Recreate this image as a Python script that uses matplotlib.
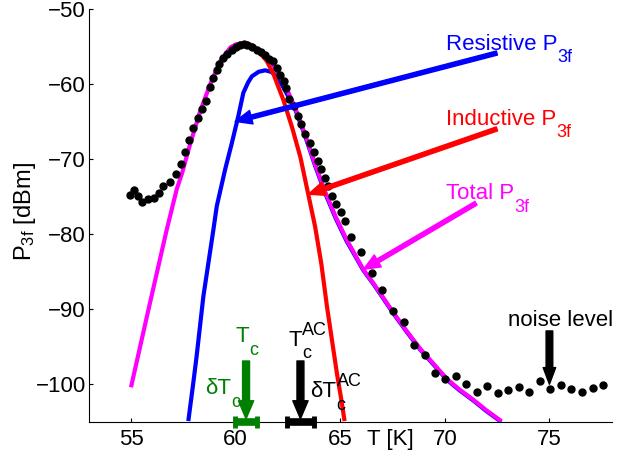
import matplotlib
matplotlib.use("Agg")
import matplotlib.pyplot as plt

# --- Schrift wie im Original (Arial-aehnlich) ---
plt.rcParams["font.family"] = "Liberation Sans"
plt.rcParams["mathtext.fontset"] = "custom"
plt.rcParams["mathtext.rm"] = "Liberation Sans"
plt.rcParams["mathtext.it"] = "Liberation Sans"
plt.rcParams["mathtext.default"] = "regular"
plt.rcParams["axes.unicode_minus"] = True

# --- Messpunkte P3f(T) ---
temp_meas = [54.95, 55.16, 55.35, 55.54, 55.83, 56.11, 56.35, 56.55, 56.87, 57.15,
             57.39, 57.58, 57.79, 57.98, 58.19, 58.38, 58.59, 58.78, 58.94, 59.10,
             59.22, 59.42, 59.61, 59.82, 60.02, 60.22, 60.38, 60.55, 60.78, 61.01,
             61.21, 61.41, 61.62, 61.81, 61.97, 62.10, 62.29, 62.42, 62.57, 62.77,
             62.96, 63.12, 63.33, 63.54, 63.73, 63.92, 64.09, 64.26, 64.44, 64.63,
             64.81, 65.05, 65.24, 65.51, 66.00, 66.52, 67.01, 67.52, 68.03, 68.54,
             69.03, 69.53, 70.02, 70.52, 71.03, 71.54, 72.03, 72.55, 73.04, 73.55,
             74.04, 74.54, 75.05, 75.56, 76.05, 76.56, 77.06, 77.55]
p3f_meas = [-74.83, -74.20, -74.96, -75.70, -75.31, -75.17, -74.51, -73.54, -73.05, -71.98,
            -70.74, -69.06, -67.42, -65.86, -64.53, -63.30, -62.23, -60.47, -59.22, -58.11,
            -57.35, -56.56, -56.02, -55.45, -55.15, -54.88, -54.72, -54.79, -55.15, -55.45,
            -55.76, -56.21, -56.65, -57.01, -57.89, -58.78, -59.67, -60.55, -61.97, -62.99,
            -64.32, -65.33, -66.69, -67.82, -69.02, -70.21, -71.34, -72.51, -73.63, -74.87,
            -76.06, -77.09, -78.28, -80.36, -82.41, -85.24, -87.50, -90.25, -91.72, -94.77,
            -96.05, -98.50, -99.24, -98.90, -100.00, -100.97, -100.17, -101.10, -100.80, -100.36,
            -101.06, -99.51, -100.57, -100.09, -100.63, -101.02, -100.49, -100.09]

# --- Modellkurven ---
temp_total = [55.0, 55.84, 56.71, 57.19, 57.43, 57.82, 58.30, 58.78, 59.26, 59.74,
              60.0, 60.3, 60.55, 60.8, 61.2, 61.73, 62.29, 62.85, 63.33, 63.8,
              64.3, 64.8, 65.3, 66.1, 66.6, 67.55, 68.2, 68.83, 69.5, 70.1,
              70.7, 71.38, 72.0, 72.7]
p3f_total = [-100.4, -90.0, -79.4, -74.0, -72.0, -68.1, -63.7, -60.1, -57.0, -55.2,
             -54.8, -54.6, -54.6, -54.9, -55.6, -57.2, -59.7, -63.2, -66.8, -70.7,
             -74.5, -77.8, -80.7, -84.7, -86.6, -90.5, -93.0, -95.3, -97.4, -99.3,
             -100.7, -102.1, -103.5, -104.9]

temp_ind = [59.74, 60.0, 60.3, 60.55, 60.8, 61.17, 61.5, 61.81, 62.29, 62.7,
            63.1, 63.48, 63.8, 64.1, 64.36, 64.6, 64.84, 65.05, 65.21]
p3f_ind = [-55.2, -54.8, -54.6, -54.6, -54.9, -55.9, -57.0, -58.7, -62.2, -65.8,
           -69.8, -74.8, -79.0, -84.0, -89.5, -94.0, -98.5, -102.0, -104.9]

temp_res = [57.74, 57.97, 58.14, 58.46, 58.94, 59.10, 59.50, 59.82, 60.13, 60.37,
            60.6, 60.78, 61.1, 61.41, 61.7, 61.97, 62.29, 62.85, 63.33, 63.8,
            64.3, 64.8, 65.3, 66.1, 66.6, 67.55, 68.2, 68.83, 69.5, 70.1,
            70.7, 71.38, 72.0, 72.7]
p3f_res = [-104.9, -100.0, -96.2, -88.3, -79.4, -76.3, -71.4, -67.9, -64.3, -61.2,
           -59.8, -59.0, -58.4, -58.2, -58.4, -59.0, -60.5, -63.4, -67.0, -70.9,
           -74.7, -78.0, -80.9, -84.8, -86.7, -90.6, -93.1, -95.4, -97.5, -99.4,
           -100.8, -102.2, -103.6, -105.0]

# --- Tc-Markierungen (Mitte, halbe Breite) ---
tc_center, tc_width = 60.5, 0.52
tc_ac_center, tc_ac_width = 63.1, 0.64
noise_temp, noise_level = 75.0, -100.0

BLUE = "#0000FF"
RED = "#FF0000"
MAGENTA = "#FF00FF"
GREEN = "#008000"
FS = 16        # Haupttext
FS_SUB = 13    # Indizes
SUB_DROP = 9   # pt unter der Grundlinie
SUP_RISE = 8   # pt ueber der Grundlinie

fig = plt.figure(figsize=(6.19, 4.59), dpi=100)
ax = fig.add_axes([0.144, 0.081, 0.845, 0.900])

ax.plot(temp_res, p3f_res, color=BLUE, lw=3, solid_capstyle="butt", zorder=2)
ax.plot(temp_ind, p3f_ind, color=RED, lw=3, solid_capstyle="butt", zorder=2)
ax.plot(temp_total, p3f_total, color=MAGENTA, lw=3, solid_capstyle="butt", zorder=3)
ax.plot(temp_meas, p3f_meas, "o", color="black", ms=5, zorder=4)


def arrow(tip, tail, color, width=3, headwidth=10, headlength=12):
    ax.annotate("", xy=tip, xytext=tail,
                arrowprops=dict(facecolor=color, edgecolor=color, width=width,
                                headwidth=headwidth, headlength=headlength, shrink=0),
                annotation_clip=False, zorder=5)


def label(x, y, main, color, sub=None, sup=None):
    # Text mit MATLAB-artigen Indizes (tiefer/hoeher als mathtext)
    t = ax.text(x, y, main, color=color, fontsize=FS, va="baseline")
    if sub:
        ax.annotate(sub, xy=(1, y), xycoords=(t, "data"), xytext=(0.3, -SUB_DROP),
                    textcoords="offset points", fontsize=FS_SUB, color=color, va="baseline")
    if sup:
        ax.annotate(sup, xy=(1, y), xycoords=(t, "data"), xytext=(0.3, SUP_RISE),
                    textcoords="offset points", fontsize=FS_SUB, color=color, va="baseline")


# Kurvenbeschriftungen mit Pfeilen
arrow((59.98, -65.0), (72.49, -55.9), BLUE)
arrow((63.48, -74.7), (72.49, -66.0), RED)
arrow((66.11, -84.7), (71.49, -75.9), MAGENTA)
label(70.05, -55.45, "Resistive P", BLUE, sub="3f")
label(70.05, -65.43, "Inductive P", RED, sub="3f")
label(70.05, -75.4, "Total P", MAGENTA, sub="3f")

# Rauschniveau
arrow((noise_temp, noise_level), (noise_temp, -92.9), "black", width=4.8, headwidth=9, headlength=12)
ax.text(73.04, -92.25, "noise level", color="black", fontsize=FS, va="baseline")

# Tc und Tc^AC mit Fehlerbalken
for center, width, color in [(tc_center, tc_width, GREEN), (tc_ac_center, tc_ac_width, "black")]:
    arrow((center, -104.6), (center, -96.9), color, width=5, headwidth=11, headlength=13)
    eb = ax.errorbar([center], [-105], xerr=[width], color=color, lw=5.5,
                     capsize=4, capthick=3.5, zorder=6)
    for child in eb.get_children():
        child.set_clip_on(False)

label(59.98, -94.4, "T", GREEN, sub="c")
label(58.52, -101.3, "δT", GREEN, sub="c")
label(62.51, -94.9, "T", "black", sub="c", sup="AC")
label(63.56, -101.7, "δT", "black", sub="c", sup="AC")

# Achsen
ax.set_xlim(53, 78)
ax.set_ylim(-105, -50)
ax.set_xticks([55, 60, 65, 70, 75])
ax.set_yticks([-100, -90, -80, -70, -60, -50])
ax.tick_params(direction="in", length=3, width=0.8, labelsize=FS)
ax.tick_params(axis="x", pad=5)
ax.tick_params(axis="y", pad=2.5)
ax.spines["top"].set_visible(False)
ax.spines["right"].set_visible(False)

ax.annotate("T [K]", xy=(66.3, -105), xytext=(0, -5), textcoords="offset points",
            ha="left", va="top", fontsize=FS)
ax.set_ylabel("P$_{3f}$ [dBm]", fontsize=17)
ax.yaxis.set_label_coords(-0.098, 0.51)

fig.savefig("out.png", dpi=100)
